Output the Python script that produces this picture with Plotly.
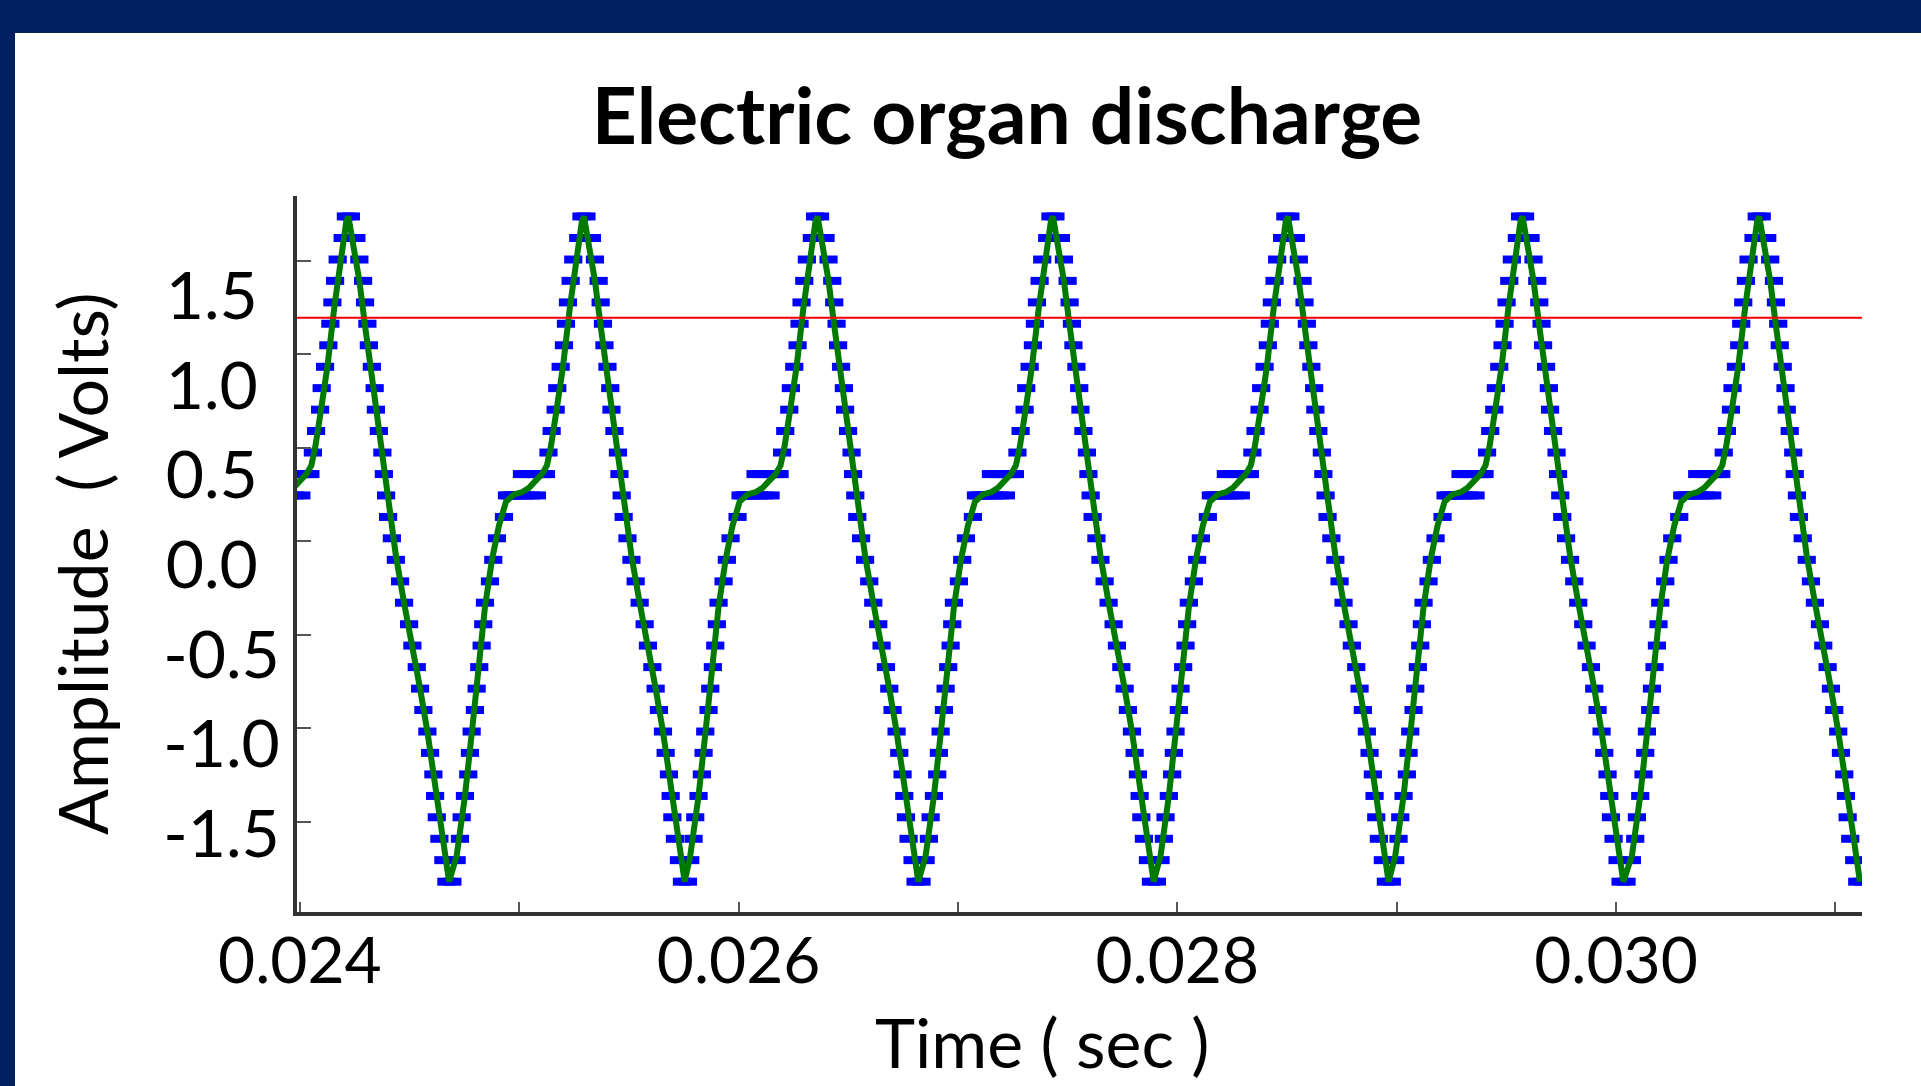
import plotly.graph_objects as go

# ---------------- data ----------------
# times (s) of the waveform peaks, one per cycle
peak_times_s = [0.024221, 0.025295, 0.026360, 0.027433, 0.028504, 0.029574, 0.030653]

# quantised samples of one cycle: time offset from the peak (microseconds) and amplitude (V)
sample_offset_us = [
    -580.4, -565.3, -557.6, -542.5, -527.5, -519.7, -512.0, -496.9, -489.2, -477.3,
    -466.4, -459.1, -451.3, -428.5, -413.5, -396.6, -364.7,
    -351.0, -337.4, -323.7, -310.0, -296.3, -282.7, -269.0, -255.3, -241.6, -227.9,
    -214.3, -200.6, -186.9, -173.2,
    -161.8, -147.3, -129.0, -121.7, -106.2, -91.2, -82.1, -72.9, -60.6, -48.8,
    -26.0, -11.4, 11.4,
    36.5, 50.1, 67.0, 76.1, 86.6, 93.5, 107.1, 119.9, 125.4, 139.0,
    155.0, 161.8, 171.9, 181.0, 198.3, 216.5, 235.7, 253.9, 276.7, 291.8,
    311.8, 326.9, 341.9, 360.2, 372.5, 387.5, 395.3, 403.0, 414.9, 433.1,
    446.8, 474.1,
]
sample_volts = [
    -1.646, -1.527, -1.407, -1.288, -1.168, -1.048, -0.929, -0.809, -0.690, -0.570,
    -0.450, -0.331, -0.211, -0.092, 0.028, 0.148, 0.267,
    0.387, 0.387, 0.387, 0.387, 0.387, 0.506, 0.387, 0.506, 0.387, 0.506,
    0.387, 0.506, 0.506, 0.506,
    0.626, 0.746, 0.865, 0.985, 1.104, 1.224, 1.344, 1.463, 1.583, 1.702,
    1.822, 1.942, 1.942,
    1.822, 1.702, 1.583, 1.463, 1.344, 1.224, 1.104, 0.985, 0.865, 0.746,
    0.626, 0.506, 0.387, 0.267, 0.148, 0.028, -0.092, -0.211, -0.331, -0.450,
    -0.570, -0.690, -0.809, -0.929, -1.048, -1.168, -1.288, -1.407, -1.527, -1.646,
    -1.766, -1.766,
]

# smooth (green) curve of one cycle: offset from the peak (microseconds) and amplitude (V)
curve_offset_us = [
    -580.4, -542.5, -510.6, -477.3, -451.3, -419.4, -387.5, -355.6, -319.1, -282.7,
    -250.7, -218.8, -191.5, -168.7, -150.4, -127.6, -95.7, -63.8, -31.9, -9.1,
    0.0, 20.5, 50.1, 77.5, 104.9, 127.6, 155.0, 182.4, 216.5, 253.9,
    291.8, 326.9, 360.2, 392.1, 424.0, 459.1,
]
curve_volts = [
    -1.622, -1.288, -0.929, -0.570, -0.235, 0.028, 0.219, 0.351, 0.393, 0.405,
    0.429, 0.471, 0.506, 0.554, 0.662, 0.841, 1.104, 1.439, 1.726, 1.918,
    1.942, 1.798, 1.583, 1.320, 1.080, 0.865, 0.626, 0.363, 0.052, -0.211,
    -0.450, -0.690, -0.929, -1.204, -1.503, -1.766,
]

threshold_volts = 1.378

x_tick_values = [0.024, 0.025, 0.026, 0.027, 0.028, 0.029, 0.030, 0.031]
x_tick_labels = ["0.024", "", "0.026", "", "0.028", "", "0.030", ""]
y_label_values = [1.5, 1.0, 0.5, 0.0, -0.5, -1.0, -1.5]
y_label_text = ["1.5\u2004", "1.0\u2004", "0.5\u2004", "0.0\u2004", "-0.5", "-1.0", "-1.5"]
y_tickmark_values = [1.696, 1.174, 0.653, 0.132, -0.391, -0.912, -1.433]
x_range = [0.0239868, 0.0311215]
y_range = [-1.935, 2.056]

# ---------------- build the series ----------------
sample_t, sample_v = [], []
curve_t, curve_v = [], []
for p in peak_times_s:
    for o, v in zip(sample_offset_us, sample_volts):
        sample_t.append(p + o * 1e-6)
        sample_v.append(v)
    for o, v in zip(curve_offset_us, curve_volts):
        curve_t.append(p + o * 1e-6)
        curve_v.append(v)

FONT = "Lato, 'Open Sans', sans-serif"

fig = go.Figure()
fig.add_trace(go.Scatter(
    x=sample_t, y=sample_v, mode="markers",
    marker=dict(symbol="line-ew", size=13, color="#0000FF",
                line=dict(width=8, color="#0000FF")),
    hoverinfo="skip", showlegend=False,
))
fig.add_trace(go.Scatter(
    x=curve_t, y=curve_v, mode="lines",
    line=dict(color="#007A00", width=6),
    hoverinfo="skip", showlegend=False,
))

W, H = 1921, 1086
L, R, T, B = 297, 1862, 196, 912
pw, ph = R - L, B - T

shapes = [
    # white slide area inside the navy frame
    dict(type="rect", xref="paper", yref="paper",
         x0=(15 - L) / pw, x1=(W - L) / pw,
         y0=(B - H) / ph, y1=(B - 33) / ph,
         fillcolor="white", line=dict(width=0), layer="below"),
    # threshold line
    dict(type="line", xref="paper", yref="y", x0=0, x1=1,
         y0=threshold_volts, y1=threshold_volts,
         line=dict(color="#FF0000", width=2), layer="above"),
]

annotations = [
    dict(text="Time ( sec )", xref="paper", yref="paper",
         x=(1042 - L) / pw, y=(B - 1041) / ph, xanchor="center", yanchor="middle",
         showarrow=False, font=dict(family=FONT, size=68, color="black")),
    dict(text="Amplitude  ( Volts)", xref="paper", yref="paper", textangle=-90,
         x=(81 - L) / pw, y=(B - 564) / ph, xanchor="center", yanchor="middle",
         showarrow=False, font=dict(family=FONT, size=68, color="black")),
]

fig.update_layout(
    width=W, height=H,
    margin=dict(l=L, r=W - R, t=T, b=H - B, pad=0),
    paper_bgcolor="#002060",
    plot_bgcolor="white",
    shapes=shapes,
    annotations=annotations,
    title=dict(text="Electric organ discharge", x=1007 / W, xanchor="center",
               y=1 - 117 / H, yanchor="middle", yref="container",
               font=dict(family=FONT, size=78.5, color="black", weight="bold")),
    xaxis=dict(
        range=x_range, showline=True, linecolor="#333333", linewidth=4,
        ticks="inside", ticklen=10, tickwidth=2, tickcolor="#555555",
        tickmode="array", tickvals=x_tick_values, ticktext=x_tick_labels,
        tickfont=dict(family=FONT, size=64, color="black"),
        ticklabelstandoff=-10,
        showgrid=False, zeroline=False,
    ),
    yaxis=dict(
        range=y_range, showline=True, linecolor="#333333", linewidth=4,
        ticks="", tickmode="array", tickvals=y_label_values, ticktext=y_label_text,
        tickfont=dict(family=FONT, size=66, color="black"),
        ticklabelstandoff=0,
        minor=dict(tickmode="array", tickvals=y_tickmark_values, ticks="inside",
                   ticklen=14, tickwidth=2, tickcolor="#555555", showgrid=False),
        showgrid=False, zeroline=False,
    ),
)

fig.write_html("out.html")
